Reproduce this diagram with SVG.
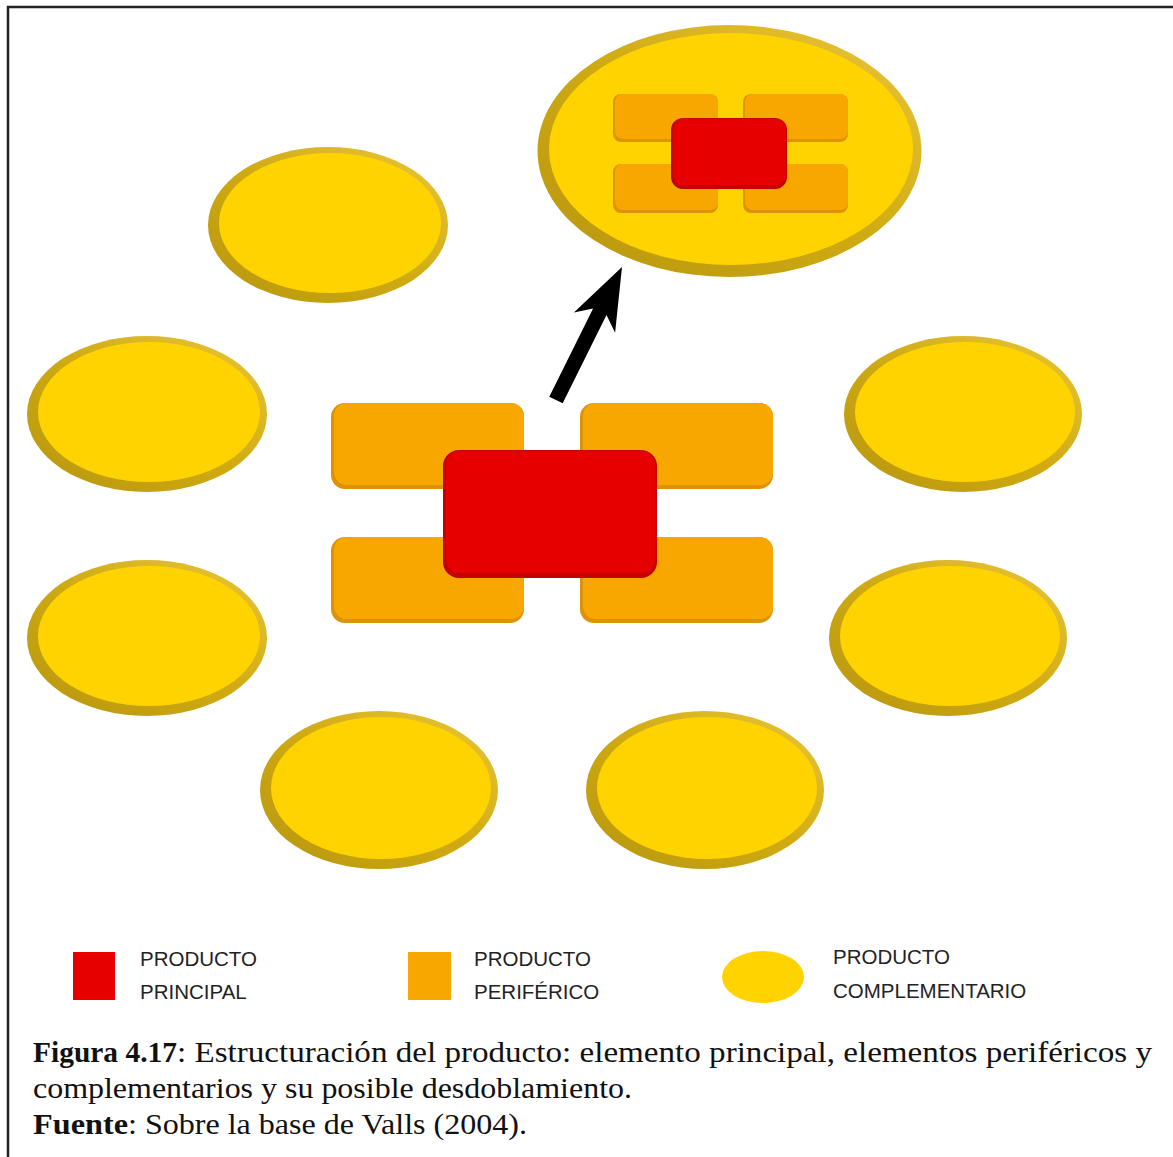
<svg xmlns="http://www.w3.org/2000/svg" width="1173" height="1157" viewBox="0 0 1173 1157">
<defs>
<linearGradient id="rim" x1="0" y1="1" x2="1" y2="0">
<stop offset="0" stop-color="#B8960E"/>
<stop offset="0.5" stop-color="#CFAA12"/>
<stop offset="1" stop-color="#EAC73C"/>
</linearGradient>
<style>
.rim{fill:url(#rim)}
.yel{fill:#FFD300}
.oBase{fill:#DE9208}
.oTop{fill:#F8A700}
.rBase{fill:#C40000}
.rTop{fill:#E60000}
.leg{font-family:"Liberation Sans",Arial,sans-serif;font-size:20.5px;fill:#222}
.cap{font-family:"Liberation Serif","Times New Roman",serif;font-size:30px;fill:#111}
.b{font-weight:bold}
</style>
</defs>
<rect width="1173" height="1157" fill="#fff"/>
<path d="M1173,7 H8 V1157" fill="none" stroke="#222" stroke-width="2.5"/>

<g id="ellipse-top-expanded">
<ellipse class="rim" cx="729.5" cy="151" rx="192" ry="126"/>
<ellipse class="yel" cx="731" cy="149" rx="182" ry="116"/>
<rect class="oBase" x="613" y="94" width="105" height="48" rx="8"/>
<rect class="oTop" x="615" y="94" width="103" height="45" rx="8"/>
<rect class="oBase" x="743" y="94" width="105" height="48" rx="8"/>
<rect class="oTop" x="745" y="94" width="103" height="45" rx="8"/>
<rect class="oBase" x="613" y="164" width="105" height="49" rx="8"/>
<rect class="oTop" x="615" y="164" width="103" height="46" rx="8"/>
<rect class="oBase" x="743" y="164" width="105" height="49" rx="8"/>
<rect class="oTop" x="745" y="164" width="103" height="46" rx="8"/>
<rect class="rBase" x="671" y="118" width="116" height="71" rx="12"/>
<rect class="rTop" x="673" y="119" width="113" height="66" rx="11"/>
</g>

<g id="ellipse-top-left">
<ellipse class="rim" cx="328" cy="225" rx="120" ry="78"/>
<ellipse class="yel" cx="330" cy="223" rx="111" ry="70"/>
</g>
<g id="ellipse-left-1">
<ellipse class="rim" cx="147" cy="414" rx="120" ry="78"/>
<ellipse class="yel" cx="149" cy="412" rx="111" ry="70"/>
</g>
<g id="ellipse-left-2">
<ellipse class="rim" cx="147" cy="638" rx="120" ry="78"/>
<ellipse class="yel" cx="149" cy="636" rx="111" ry="70"/>
</g>
<g id="ellipse-right-1">
<ellipse class="rim" cx="963" cy="414" rx="119" ry="78"/>
<ellipse class="yel" cx="965" cy="412" rx="110" ry="70"/>
</g>
<g id="ellipse-right-2">
<ellipse class="rim" cx="948" cy="638" rx="119" ry="78"/>
<ellipse class="yel" cx="950" cy="636" rx="110" ry="70"/>
</g>
<g id="ellipse-bottom-1">
<ellipse class="rim" cx="379" cy="790" rx="119" ry="79"/>
<ellipse class="yel" cx="381" cy="788" rx="110" ry="71"/>
</g>
<g id="ellipse-bottom-2">
<ellipse class="rim" cx="705" cy="790" rx="119" ry="79"/>
<ellipse class="yel" cx="707" cy="788" rx="110" ry="71"/>
</g>

<g id="peripheral-top-left">
<rect class="oBase" x="331" y="403" width="193" height="86" rx="14"/>
<rect class="oTop" x="334" y="403" width="190" height="82" rx="13"/>
</g>
<g id="peripheral-top-right">
<rect class="oBase" x="580" y="403" width="193" height="86" rx="14"/>
<rect class="oTop" x="583" y="403" width="190" height="82" rx="13"/>
</g>
<g id="peripheral-bottom-left">
<rect class="oBase" x="331" y="537" width="193" height="86" rx="14"/>
<rect class="oTop" x="334" y="537" width="190" height="82" rx="13"/>
</g>
<g id="peripheral-bottom-right">
<rect class="oBase" x="580" y="537" width="193" height="86" rx="14"/>
<rect class="oTop" x="583" y="537" width="190" height="82" rx="13"/>
</g>
<g id="principal">
<rect class="rBase" x="443" y="450" width="214" height="128" rx="16"/>
<rect class="rTop" x="446" y="451" width="209" height="122" rx="14"/>
</g>

<g id="connectors">
<polygon points="549.3,396.7 593.1,308.5 573.9,312.4 622,267 615.1,332.8 606.5,315.1 562.7,403.3" fill="#000"/>
</g>

<g id="legend">
<rect x="73" y="952" width="42" height="48" fill="#E60000"/>
<text class="leg" x="140" y="966">PRODUCTO</text>
<text class="leg" x="140" y="999">PRINCIPAL</text>
<rect x="408" y="952" width="43" height="48" fill="#F8A700"/>
<text class="leg" x="474" y="966">PRODUCTO</text>
<text class="leg" x="474" y="999">PERIFÉRICO</text>
<ellipse cx="763" cy="977" rx="41" ry="26" fill="#FFD300"/>
<text class="leg" x="833" y="964">PRODUCTO</text>
<text class="leg" x="833" y="998">COMPLEMENTARIO</text>
</g>

<g id="caption">
<text class="cap b" x="33" y="1062" textLength="144" lengthAdjust="spacingAndGlyphs">Figura 4.17</text>
<text class="cap" x="177" y="1062" textLength="975" lengthAdjust="spacingAndGlyphs">: Estructuración  del producto:  elemento principal,  elementos  periféricos  y</text>
<text class="cap" x="33" y="1098" textLength="599" lengthAdjust="spacingAndGlyphs">complementarios  y su posible desdoblamiento.</text>
<text class="cap b" x="33" y="1134" textLength="95" lengthAdjust="spacingAndGlyphs">Fuente</text>
<text class="cap" x="128" y="1134" textLength="399" lengthAdjust="spacingAndGlyphs">: Sobre la base de Valls (2004).</text>
</g>
</svg>
